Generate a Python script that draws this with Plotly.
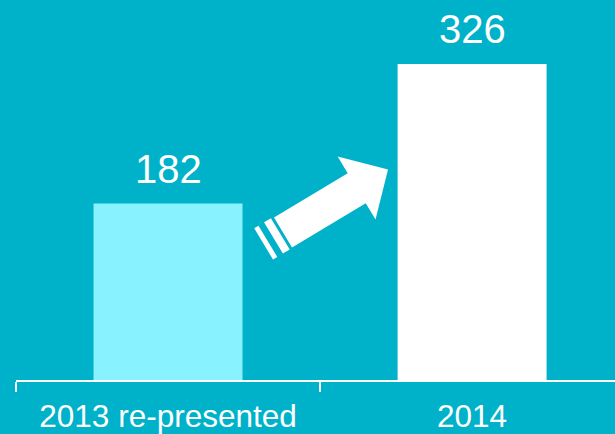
import math
import plotly.graph_objects as go

categories = ["2013 re-presented", "2014"]
values = [182, 326]
bar_colors = ["#88F2FF", "#FFFFFF"]
value_labels = ["182", "326"]

BG = "#00B2C9"
W, H = 615, 434
ML, MR, MT, MB = 16, 0, 0, 54
PW, PH = W - ML - MR, H - MT - MB

fig = go.Figure()
fig.add_trace(go.Bar(
    x=categories, y=values, marker=dict(color=bar_colors, line=dict(width=0)),
    width=0.49, hoverinfo="skip",
))

for i, (v, t) in enumerate(zip(values, value_labels)):
    fig.add_annotation(x=i, y=v, text=t, showarrow=False, yanchor="bottom",
                       yshift=11, font=dict(size=40, color="white",
                                            family="Liberation Sans, Arial"))

# decorative arrow (pixel coords -> paper)
def p(x, y):
    return f"{(x - ML) / PW:.5f},{(H - MB - y) / PH:.5f}"

ang = math.radians(31)
u = (math.cos(ang), -math.sin(ang))
v = (math.sin(ang), math.cos(ang))
def pt(base, a, b):
    return (base[0] + u[0] * a + v[0] * b, base[1] + u[1] * a + v[1] * b)

P0 = (274, 217.5)  # shaft back-top corner
sw = 35
shaft_len = 86
head_top = -19.5
head_bot = 54
head_tip = 122.5
pts = [
    pt(P0, 0, 0), pt(P0, shaft_len, 0), pt(P0, shaft_len, head_top),
    pt(P0, head_tip, sw / 2), pt(P0, shaft_len, head_bot),
    pt(P0, shaft_len, sw), pt(P0, 0, sw),
]
path = "M " + " L ".join(p(*q) for q in pts) + " Z"
fig.add_shape(type="path", path=path, xref="paper", yref="paper",
              fillcolor="white", line=dict(width=0), layer="above")
# stripes
for a0, a1 in [(-11, -3), (-22.5, -17.5)]:
    s = [pt(P0, a0, -1), pt(P0, a1, -1), pt(P0, a1, sw + 0.5), pt(P0, a0, sw + 0.5)]
    sp = "M " + " L ".join(p(*q) for q in s) + " Z"
    fig.add_shape(type="path", path=sp, xref="paper", yref="paper",
                  fillcolor="white", line=dict(width=0), layer="above")

fig.update_layout(
    width=W, height=H, margin=dict(l=ML, r=MR, t=MT, b=MB, autoexpand=False),
    paper_bgcolor=BG, plot_bgcolor=BG, showlegend=False,
    xaxis=dict(range=[-0.5, 1.47], showline=True, linecolor="white", linewidth=2,
               ticks="outside", ticklen=10, tickwidth=1.5, tickcolor="white",
               tickson="boundaries", showgrid=False, zeroline=False,
               automargin=False, ticklabelstandoff=7,
               tickfont=dict(size=31.5, color="white", family="Liberation Sans, Arial"),
               fixedrange=True),
    yaxis=dict(range=[0, 392], visible=False, showgrid=False, zeroline=False),
)

fig.write_html("out.html")
